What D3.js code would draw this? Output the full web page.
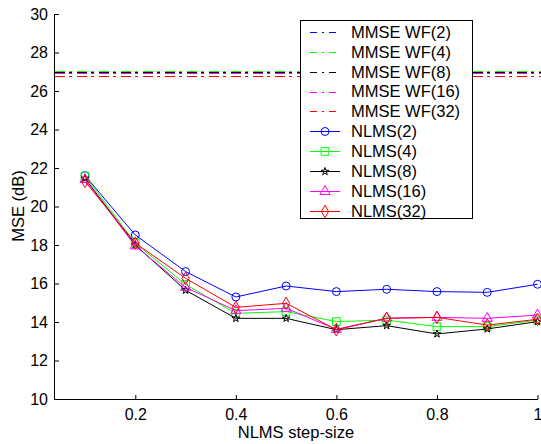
<!DOCTYPE html>
<html>
<head>
<meta charset="utf-8">
<script src="https://cdn.jsdelivr.net/npm/d3@7"></script>
<style>
  body { margin: 0; background: #fff; }
  svg text { font-family: "Liberation Sans", Arial, sans-serif; fill: #000; }
</style>
</head>
<body>
<div class="container"></div>
<script>
// step sizes
var stepSizes = [0.1, 0.2, 0.3, 0.4, 0.5, 0.6, 0.7, 0.8, 0.9, 1.0];

// MMSE Wiener filter levels (flat lines)
var wfNames  = ["MMSE WF(2)", "MMSE WF(4)", "MMSE WF(8)", "MMSE WF(16)", "MMSE WF(32)"];
var wfValues = [26.94, 27.04, 26.99, 26.94, 26.78];

// NLMS curves
var nlmsNames = ["NLMS(2)", "NLMS(4)", "NLMS(8)", "NLMS(16)", "NLMS(32)"];
var nlms2  = [21.6, 18.52, 16.62, 15.3, 15.87, 15.58, 15.7, 15.58, 15.54, 15.96];
var nlms4  = [21.58, 18.1, 15.95, 14.45, 14.54, 14.02, 14.1, 13.76, 13.76, 14.1];
var nlms8  = [21.46, 18.0, 15.65, 14.19, 14.19, 13.6, 13.81, 13.38, 13.64, 14.02];
var nlms16 = [21.4, 17.95, 15.8, 14.59, 14.71, 13.62, 14.2, 14.24, 14.19, 14.36];
var nlms32 = [21.3, 18.1, 16.27, 14.76, 14.97, 13.6, 14.19, 14.24, 13.84, 14.14];

var xTicks = [0.2, 0.4, 0.6, 0.8, 1];
var yTicks = [10, 12, 14, 16, 18, 20, 22, 24, 26, 28, 30];

var colors  = ["#0000ff", "#00ff00", "#000000", "#ff00ff", "#ff0000"];
var symbols = [d3.symbolCircle, d3.symbolSquare, d3.symbolStar, d3.symbolTriangle, d3.symbolDiamond];
var symSize = [50, 60, 18, 45, 45];

var width = 541, height = 444;
var x = d3.scaleLinear().domain([0.0383, 1.0]).range([54, 537.5]);
var y = d3.scaleLinear().domain([10, 30]).range([399, 14]);

var svg = d3.select("div.container").append("svg")
    .attr("width", width)
    .attr("height", height);

// axes (ticks pointing inward, matlab style)
var xAxis = svg.append("g")
    .attr("transform", "translate(0," + y(10) + ")")
    .call(d3.axisBottom(x).tickValues(xTicks).tickSizeInner(-4).tickSizeOuter(0).tickPadding(10)
        .tickFormat(function (d) { return d === 1 ? "1" : d3.format(".1f")(d); }));
var yAxis = svg.append("g")
    .attr("transform", "translate(" + x.range()[0] + ",0)")
    .call(d3.axisLeft(y).tickValues(yTicks).tickSizeInner(-5).tickSizeOuter(0).tickPadding(6));

[xAxis, yAxis].forEach(function (a) {
  a.select(".domain").attr("stroke", "#000").attr("stroke-width", 1);
  a.selectAll(".tick line").attr("stroke", "#000");
  a.selectAll(".tick text").style("font-size", "16px").attr("fill", "#000");
});
xAxis.selectAll(".tick text").attr("dy", "0.71em");

svg.append("text")
    .attr("x", 296)
    .attr("y", 438)
    .attr("text-anchor", "middle")
    .style("font-size", "16.5px")
    .text("NLMS step-size");

svg.append("text")
    .attr("transform", "translate(24," + 206 + ") rotate(-90)")
    .attr("text-anchor", "middle")
    .style("font-size", "16.5px")
    .text("MSE (dB)");

var dashDot = "10,4,3,5";

// MMSE lines, snapped to pixel rows so the colours stay clean
var plot = svg.append("g");
wfValues.forEach(function (v, i) {
  var py = Math.round(y(v)) + 0.5;
  plot.append("line")
      .attr("x1", 55).attr("x2", x.range()[1] + 3)
      .attr("y1", py).attr("y2", py)
      .attr("stroke", colors[i])
      .attr("stroke-width", 1)
      .attr("shape-rendering", "crispEdges")
      .attr("stroke-dasharray", dashDot);
});

// NLMS curves
var series = [nlms2, nlms4, nlms8, nlms16, nlms32];
var line = d3.line()
    .x(function (d, i) { return x(stepSizes[i]); })
    .y(function (d) { return y(d); });

series.forEach(function (vals, k) {
  plot.append("path")
      .datum(vals)
      .attr("d", line)
      .attr("fill", "none")
      .attr("stroke", colors[k])
      .attr("stroke-width", 1);

  plot.append("g").selectAll("path")
      .data(vals)
      .enter()
      .append("path")
      .attr("transform", function (d, i) { return "translate(" + x(stepSizes[i]) + "," + y(d) + ")"; })
      .attr("d", d3.symbol().type(symbols[k]).size(symSize[k]))
      .attr("fill", "none")
      .attr("stroke", colors[k])
      .attr("stroke-width", 1);
});

// legend
var legend = svg.append("g");
legend.append("rect")
    .attr("x", 300.5).attr("y", 20.5)
    .attr("width", 172).attr("height", 198)
    .attr("fill", "#fff")
    .attr("stroke", "#000");

var legendNames = wfNames.concat(nlmsNames);
legendNames.forEach(function (name, i) {
  var cy = 31.8 + i * 19.9;
  var k = i % 5;
  var g = legend.append("g");
  var ly = Math.round(cy) + 0.5;
  g.append("line")
      .attr("x1", 310).attr("x2", 340)
      .attr("y1", ly).attr("y2", ly)
      .attr("stroke", colors[k])
      .attr("stroke-width", 1)
      .attr("shape-rendering", "crispEdges")
      .attr("stroke-dasharray", i < 5 ? "7,5,2,5" : null);
  if (i >= 5) {
    g.append("path")
        .attr("transform", "translate(325," + ly + ")")
        .attr("d", d3.symbol().type(symbols[k]).size(symSize[k]))
        .attr("fill", "none")
        .attr("stroke", colors[k]);
  }
  g.append("text")
      .attr("x", 351)
      .attr("y", cy)
      .attr("dy", "0.36em")
      .style("font-size", "16.5px")
      .text(name);
});
</script>
</body>
</html>
